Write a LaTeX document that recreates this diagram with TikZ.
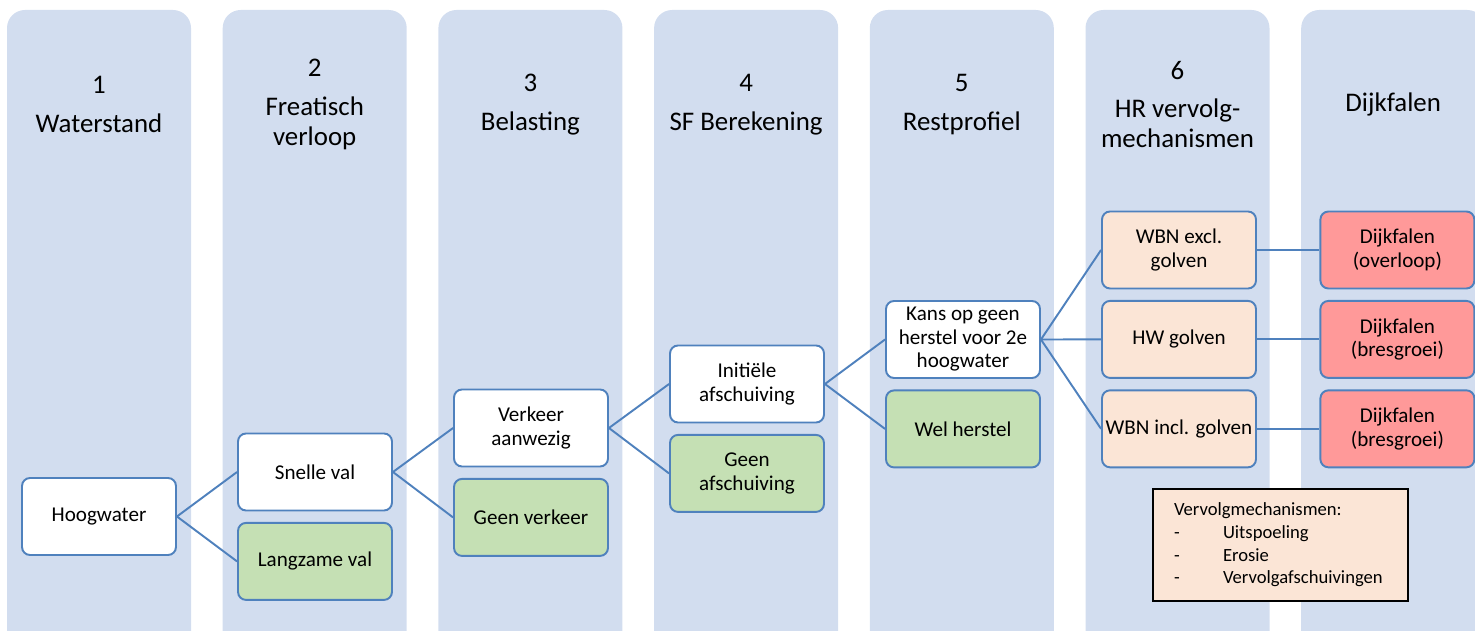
\documentclass[tikz,border=0pt]{standalone}
\usepackage{fontspec}
\setmainfont{Carlito}
\usepackage{xcolor}
\usetikzlibrary{positioning}
\definecolor{kolom}{HTML}{D2DDEF}
\definecolor{rand}{HTML}{4F81BD}
\definecolor{groen}{HTML}{C5E0B4}
\definecolor{perzik}{HTML}{FBE5D6}
\definecolor{rood}{HTML}{FF9999}

\begin{document}
\begin{tikzpicture}[
    x=0.02cm, y=-0.02cm,
    node distance=0.21cm,
    stap/.style={rectangle, draw=rand, line width=1.1pt, fill=white, rounded corners=0.16cm, minimum width=3.08cm, minimum height=1.54cm, align=center, inner sep=1pt, font=\fontsize{12}{13.4}\selectfont},
    alt/.style={stap, fill=groen},
    mech/.style={stap, fill=perzik},
    faal/.style={stap, fill=rood},
    kop/.style={align=center, font=\fontsize{15.3}{17}\selectfont},
    legenda/.style={rectangle, draw=black, line width=1pt, fill=perzik, minimum width=5.1cm, minimum height=2.24cm, text width=4.26cm, align=left, font=\fontsize{10.6}{12.9}\selectfont},
    lijn/.style={draw=rand, line width=1.1pt},
]
\useasboundingbox (0,0) rectangle (1475,631);
\clip (0,0) rectangle (1475,631);
% kolommen met kopjes
\foreach \i/\titel in {0/{1\\[5pt]Waterstand}, 1/{2\\[5pt]Freatisch\\verloop}, 2/{3\\[5pt]Belasting}, 3/{4\\[5pt]SF Berekening}, 4/{5\\[5pt]Restprofiel}, 5/{6\\[5pt]HR vervolg-\\mechanismen}, 6/{Dijkfalen}} {
    \fill[kolom, rounded corners=0.36cm] ({7+215.7*\i},10) rectangle ++(184,700);
    \node[kop] (kop\i) at ({99+215.7*\i},104.5) {\titel};
}
% stappen
\node[stap] (hoog) at (99,516.5) {Hoogwater};
\node[stap] (snel) at (315,472) {Snelle val};
\node[alt, below=of snel] (langzaam) {Langzame val};
\node[stap] (verkeer) at (531,428) {Verkeer\\aanwezig};
\node[alt, below=of verkeer] (geenverk) {Geen verkeer};
\node[stap] (init) at (747,384) {Initiële\\afschuiving};
\node[alt, below=of init] (geenafsch) {Geen\\afschuiving};
\node[stap] (kans) at (963,339.5) {Kans op geen\\herstel voor 2e\\hoogwater};
\node[alt, below=of kans] (herstel) {Wel herstel};
\node[mech] (wbnexcl) at (1179,250) {WBN excl.\\golven};
\node[mech, below=of wbnexcl] (hwgolf) {HW golven};
\node[mech, below=of hwgolf] (wbnincl) {WBN incl. golven};
\node[faal, right=1.25cm of wbnexcl] (faal1) {Dijkfalen\\(overloop)};
\node[faal, below=of faal1] (faal2) {Dijkfalen\\(bresgroei)};
\node[faal, below=of faal2] (faal3) {Dijkfalen\\(bresgroei)};
\node[legenda] (legend) at (1280.5,545) {Vervolgmechanismen:\\\makebox[0.98cm][l]{-}Uitspoeling\\\makebox[0.98cm][l]{-}Erosie\\\makebox[0.98cm][l]{-}Vervolgafschuivingen};
% verbindingen
\draw[lijn] (hoog.east) -- (snel.west);
\draw[lijn] (hoog.east) -- (langzaam.west);
\draw[lijn] (snel.east) -- (verkeer.west);
\draw[lijn] (snel.east) -- (geenverk.west);
\draw[lijn] (verkeer.east) -- (init.west);
\draw[lijn] (verkeer.east) -- (geenafsch.west);
\draw[lijn] (init.east) -- (kans.west);
\draw[lijn] (init.east) -- (herstel.west);
\draw[lijn] (kans.east) -- (wbnexcl.west);
\draw[lijn] (kans.east) -- (hwgolf.west);
\draw[lijn] (kans.east) -- (wbnincl.west);
\draw[lijn] (wbnexcl) -- (faal1);
\draw[lijn] (hwgolf) -- (faal2);
\draw[lijn] (wbnincl) -- (faal3);
\end{tikzpicture}
\end{document}
